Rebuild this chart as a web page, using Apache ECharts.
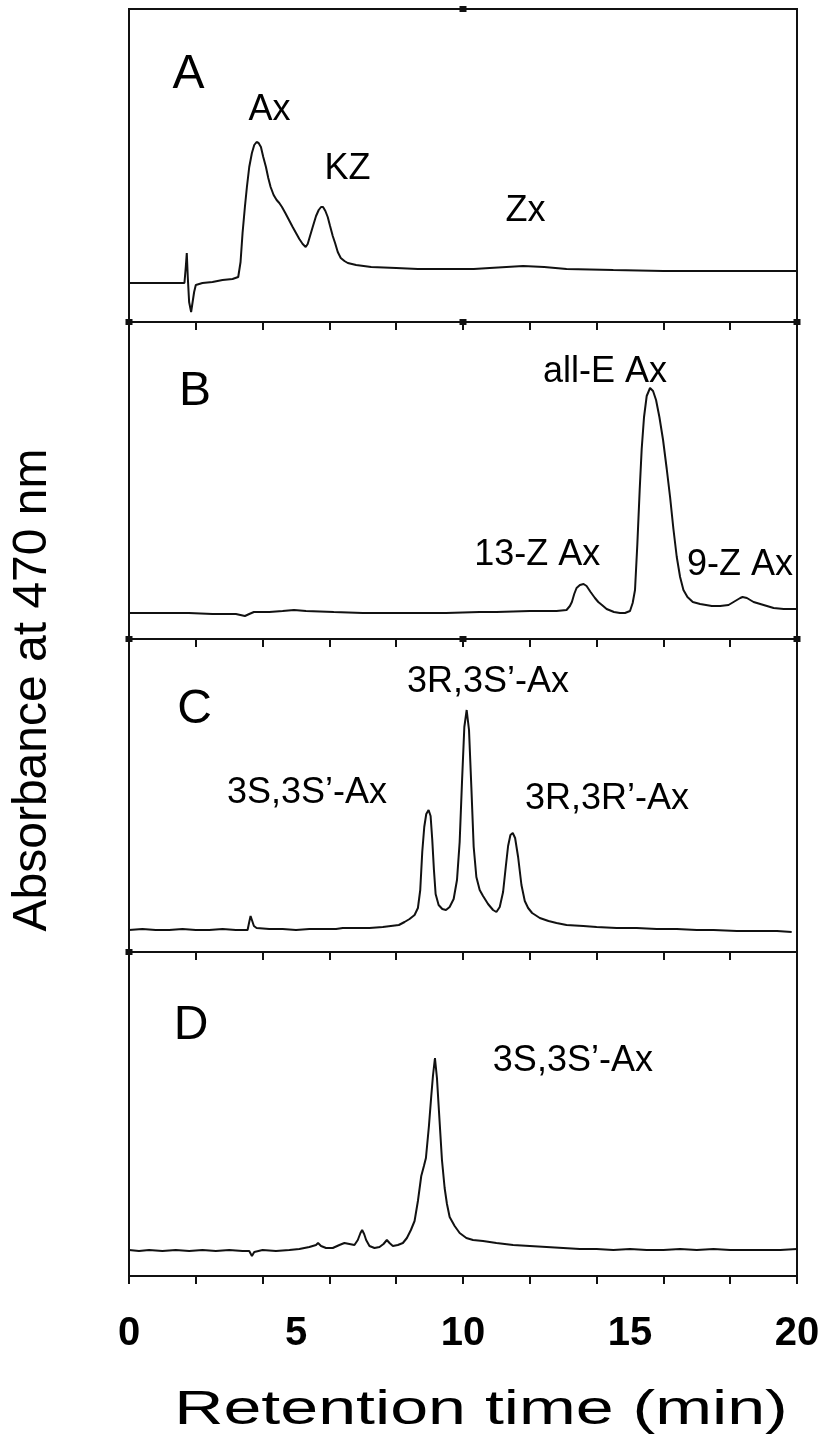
<!DOCTYPE html>
<html>
<head>
<meta charset="utf-8">
<script src="https://cdn.jsdelivr.net/npm/echarts@6/dist/echarts.min.js"></script>
<style>html,body{margin:0;padding:0;background:#fff;}#c{width:825px;height:1439px;}</style>
</head>
<body>
<div id="c"></div>
<script>
// ---- data (x: retention time, min; y: detector response, arbitrary units) ----
const xTicks = [0, 5, 10, 15, 20];
const panelNames = ['A', 'B', 'C', 'D'];
const panelMax = [313, 317, 313, 324];

const traceA = [[0,39],[0.5,39],[1.0,39],[1.5,39],[1.66,39],[1.70,55],[1.73,69],[1.76,45],[1.80,20],[1.86,10],[1.91,12],[1.95,30],[2.0,37],[2.2,39],[2.5,40],[2.8,42],[3.1,43],[3.27,45],[3.34,60],[3.4,89],[3.47,115],[3.53,135],[3.6,155],[3.68,169],[3.75,177],[3.82,180],[3.88,179],[3.95,175],[4.02,165],[4.1,155],[4.17,144],[4.24,135],[4.33,127],[4.42,122],[4.5,119],[4.58,115],[4.68,109],[4.79,102],[4.9,95],[5.0,89],[5.1,83],[5.2,78],[5.29,75],[5.35,78],[5.42,86],[5.5,95],[5.6,106],[5.68,112],[5.75,115],[5.81,115],[5.88,111],[5.95,105],[6.02,96],[6.1,86],[6.17,79],[6.25,70],[6.34,64],[6.45,61],[6.55,59],[6.8,57],[7.25,55],[8.0,54],[8.65,53],[9.5,53],[10.32,53],[10.8,54],[11.3,55],[11.8,56],[12.43,55],[13.1,53],[14.5,52],[16,51],[17.3,51],[18.5,51],[20,51]];

const traceB = [[0,26],[1,26],[1.79,26],[2.5,25],[3.2,25],[3.47,23],[3.6,25],[3.74,27],[4.2,27],[4.6,28],[4.94,29],[5.3,28],[6.13,27],[7,26],[8.08,26],[9.49,26],[10.5,27],[11.0,27],[12,28],[12.8,28],[13.1,29],[13.2,33],[13.26,37],[13.33,45],[13.4,51],[13.5,54],[13.61,55],[13.7,53],[13.82,47],[13.95,41],[14.05,37],[14.16,34],[14.3,30],[14.52,27],[14.7,26],[14.85,26],[15.0,28],[15.08,36],[15.15,49],[15.22,95],[15.29,149],[15.35,190],[15.42,222],[15.5,243],[15.6,251],[15.69,248],[15.78,239],[15.88,222],[15.99,199],[16.1,170],[16.2,142],[16.3,110],[16.4,82],[16.5,62],[16.6,49],[16.72,42],[16.88,37],[17.1,35],[17.45,33],[17.7,33],[17.95,34],[18.15,38],[18.3,41],[18.37,42],[18.5,41],[18.7,37],[19.0,34],[19.3,31],[19.6,30],[20,30]];

const traceC = [[0,22],[0.4,23],[0.8,22],[1.2,22],[1.6,23],[2.0,22],[2.4,22],[2.8,23],[3.2,22],[3.55,22],[3.6,30],[3.64,36],[3.68,32],[3.74,26],[3.82,24],[4.2,23],[4.6,23],[5.0,22],[5.4,23],[5.8,23],[6.2,23],[6.4,24],[6.8,24],[7.2,24],[7.6,25],[8.08,27],[8.25,30],[8.4,33],[8.55,37],[8.65,44],[8.72,62],[8.78,100],[8.84,125],[8.9,138],[8.97,142],[9.03,136],[9.08,112],[9.13,82],[9.18,58],[9.27,47],[9.38,43],[9.49,42],[9.6,45],[9.72,53],[9.82,72],[9.9,110],[9.97,170],[10.04,225],[10.11,242],[10.18,222],[10.25,165],[10.32,105],[10.4,75],[10.5,62],[10.6,56],[10.75,48],[10.9,42],[11.0,40],[11.1,45],[11.2,60],[11.28,85],[11.35,106],[11.42,117],[11.49,119],[11.56,114],[11.65,95],[11.75,67],[11.85,51],[11.95,44],[12.07,39],[12.3,34],[12.56,31],[12.8,29],[13.1,27],[13.6,26],[14.0,25],[14.6,24],[15.2,24],[15.8,23],[16.4,23],[17.0,22],[17.5,22],[18.2,21],[18.8,21],[19.4,21],[19.84,20]];

const traceD = [[0,26],[0.3,25],[0.6,26],[1.0,25],[1.4,26],[1.8,25],[2.2,26],[2.6,25],[3.0,26],[3.4,25],[3.6,25],[3.68,20],[3.75,24],[4.0,26],[4.4,25],[4.8,26],[5.1,27],[5.4,29],[5.6,31],[5.66,33],[5.75,30],[5.9,28],[6.1,28],[6.3,31],[6.45,33],[6.6,32],[6.75,31],[6.85,36],[6.93,43],[6.98,46],[7.04,42],[7.1,36],[7.2,30],[7.35,28],[7.5,29],[7.62,32],[7.72,36],[7.8,33],[7.9,30],[8.05,31],[8.2,33],[8.32,38],[8.44,46],[8.55,55],[8.65,75],[8.75,100],[8.83,110],[8.89,118],[8.98,150],[9.05,180],[9.1,200],[9.16,218],[9.22,198],[9.28,165],[9.37,116],[9.45,88],[9.52,72],[9.6,59],[9.75,50],[9.9,43],[10.1,38],[10.3,36],[10.6,35],[11.0,33],[11.5,31],[12.0,30],[12.5,29],[13.0,28],[13.5,27],[14.0,27],[14.5,26],[15.0,27],[15.5,26],[16.0,26],[16.5,27],[17.0,26],[17.5,27],[18.0,26],[18.5,26],[19.0,26],[19.5,26],[20,27]];

// peak annotations: [time, response, text]
const labelsA = [[4.21,212,'Ax'],[6.54,153,'KZ'],[11.87,111,'Zx']];
const labelsB = [[14.25,267,'all-E Ax'],[12.22,84,'13-Z Ax'],[18.29,74,'9-Z Ax']];
const labelsC = [[10.75,270,'3R,3S’-Ax'],[5.33,159,'3S,3S’-Ax'],[14.31,153,'3R,3R’-Ax']];
const labelsD = [[13.29,215,'3S,3S’-Ax']];
// panel letter positions: [time, response]
const letterPos = [[1.78,247],[1.98,247],[1.96,242],[1.86,250]];
// boundary marker squares per panel (times on the top edge)
const markerTimes = [[10],[0,10,20],[0,10,20],[0]];

const traces = [traceA, traceB, traceC, traceD];
const labelSets = [labelsA, labelsB, labelsC, labelsD];

// ---- layout ----
const gridTop = [9, 322, 639, 952];
const gridH = [313, 317, 313, 324];
const INK = '#000';
const FONT = '"Liberation Sans", Arial, sans-serif';

const grid = [], xAxis = [], yAxis = [], series = [];
for (let i = 0; i < 4; i++) {
  grid.push({ left: 129, width: 668, top: gridTop[i], height: gridH[i], show: true,
              borderColor: '#111', borderWidth: 2, backgroundColor: 'transparent' });
  xAxis.push({ gridIndex: i, type: 'value', min: 0, max: 20, interval: 2, position: 'top',
               axisLine: { show: true, lineStyle: { color: '#111', width: 2 } },
               axisTick: { show: true, inside: true, length: 8, lineStyle: { color: '#111', width: 2 } },
               axisLabel: { show: false }, splitLine: { show: false } });
  yAxis.push({ gridIndex: i, type: 'value', min: 0, max: panelMax[i], show: false, splitLine: { show: false } });
}
// bottom axis of panel D: ticks every 2 min, labels every 5 min
xAxis.push({ gridIndex: 3, type: 'value', min: 0, max: 20, interval: 2, position: 'bottom',
             axisLine: { show: true, lineStyle: { color: '#111', width: 2 } },
             axisTick: { show: true, inside: false, length: 7, lineStyle: { color: '#111', width: 2 } },
             axisLabel: { show: false }, splitLine: { show: false } });
xAxis.push({ gridIndex: 3, type: 'value', min: xTicks[0], max: xTicks[xTicks.length - 1], interval: 5, position: 'bottom',
             axisLine: { show: false }, axisTick: { show: false }, splitLine: { show: false },
             axisLabel: { show: true, margin: 38, color: INK, fontSize: 40, fontWeight: 'bold', fontFamily: FONT } });

const textLabel = (size) => ({ show: true, position: [0, 0], align: 'center', verticalAlign: 'middle',
  formatter: p => p.data[2], color: INK, opacity: 1, fontSize: size, fontFamily: FONT, textBorderWidth: 0 });

for (let i = 0; i < 4; i++) {
  series.push({ type: 'line', xAxisIndex: i, yAxisIndex: i, data: traces[i], showSymbol: false,
                symbol: 'none', smooth: false, lineStyle: { color: '#111', width: 2 }, z: 5, animation: false });
  series.push({ type: 'scatter', xAxisIndex: i, yAxisIndex: i, symbolSize: 0, clip: false, animation: false,
                itemStyle: { color: 'rgba(0,0,0,0)', opacity: 1 }, data: labelSets[i], label: textLabel(36) });
  series.push({ type: 'scatter', xAxisIndex: i, yAxisIndex: i, symbolSize: 0, clip: false, animation: false,
                itemStyle: { color: 'rgba(0,0,0,0)', opacity: 1 },
                data: [[letterPos[i][0], letterPos[i][1], panelNames[i]]], label: textLabel(48) });
  series.push({ type: 'scatter', xAxisIndex: i, yAxisIndex: i, symbol: 'rect', symbolSize: [7, 6], clip: false,
                animation: false, itemStyle: { color: '#111', opacity: 1 }, z: 6,
                data: markerTimes[i].map(t => [t, panelMax[i]]) });
}

const chart = echarts.init(document.getElementById('c'), null, { renderer: 'canvas' });
chart.setOption({
  animation: false,
  backgroundColor: '#fff',
  grid, xAxis, yAxis, series,
  graphic: [
    { type: 'text', x: 33, y: 690, rotation: Math.PI / 2,
      style: { text: 'Absorbance at 470 nm', font: '48px ' + FONT, fill: INK, textAlign: 'center', textVerticalAlign: 'middle' } },
    { type: 'text', x: 481, y: 1411, scaleX: 1.42,
      style: { text: 'Retention time (min)', font: '48px ' + FONT, fill: INK, textAlign: 'center', textVerticalAlign: 'middle' } }
  ]
});
</script>
</body>
</html>
